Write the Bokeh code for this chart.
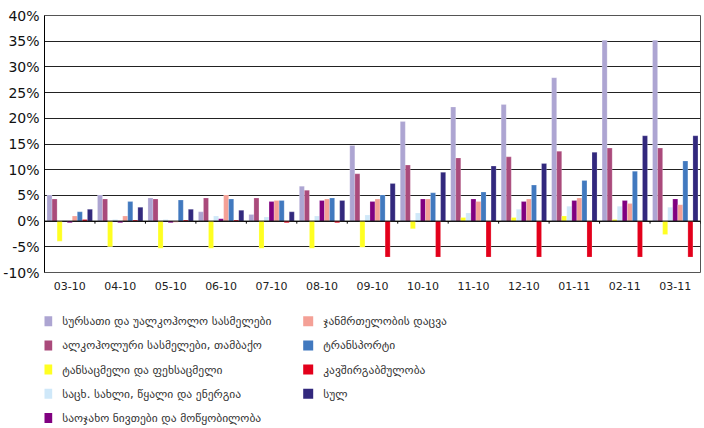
from bokeh.plotting import figure
from bokeh.layouts import column
from bokeh.models import (ColumnDataSource, FixedTicker, PrintfTickFormatter,
                          Span, Range1d)
from bokeh.core.properties import value
from bokeh.embed import file_html
from bokeh.resources import INLINE

# Monthly annual inflation by consumer group (%)
months = ["03-10", "04-10", "05-10", "06-10", "07-10", "08-10", "09-10",
          "10-10", "11-10", "12-10", "01-11", "02-11", "03-11"]

food = [5.1, 5.1, 4.5, 1.8, 1.3, 6.8, 14.7, 19.4, 22.2, 22.7, 27.9, 35.2, 35.2]
alcohol = [4.3, 4.3, 4.3, 4.5, 4.5, 6.0, 9.2, 10.9, 12.3, 12.5, 13.6, 14.2, 14.2]
clothing = [-3.9, -5.0, -5.3, -5.3, -5.3, -5.3, -5.1, -1.5, 0.7, 0.7, 1.0, 0.3, -2.6]
housing = [0.1, 0.3, 0.3, 1.0, 0.8, 1.0, 1.2, 1.6, 1.6, 2.3, 2.9, 2.9, 2.7]
household = [-0.3, -0.3, -0.3, 0.45, 3.8, 4.0, 3.8, 4.3, 4.3, 3.8, 4.0, 4.0, 4.3]
health = [1.0, 1.0, -0.2, 5.1, 4.0, 4.3, 4.3, 4.3, 3.8, 4.3, 4.5, 3.4, 3.2]
transport = [1.8, 3.8, 4.1, 4.3, 4.0, 4.5, 5.1, 5.5, 5.65, 7.0, 7.9, 9.7, 11.7]
communication = [0.3, 0.2, 0.2, 0.2, -0.3, -0.3, -7.0, -7.0, -7.0, -7.0, -7.0, -7.0, -7.0]
total = [2.3, 2.7, 2.3, 2.1, 1.8, 4.0, 7.3, 9.5, 10.7, 11.2, 13.4, 16.6, 16.6]

series_labels = [
    "სურსათი და უალკოჰოლო სასმელები",
    "ალკოჰოლური სასმელები, თამბაქო",
    "ტანსაცმელი და ფეხსაცმელი",
    "საცხ. სახლი, წყალი და ენერგია",
    "საოჯახო ნივთები და მოწყობილობა",
    "ჯანმრთელობის დაცვა",
    "ტრანსპორტი",
    "კავშირგაბმულობა",
    "სულ",
]
series_values = [food, alcohol, clothing, housing, household, health,
                 transport, communication, total]
series_colors = ["#ADA5D2", "#AA4A7B", "#FFFF22", "#CFE8F9", "#800080",
                 "#F4A096", "#4179BF", "#E3001B", "#32287D"]

y_ticks = list(range(-10, 45, 5))

FONT = "DejaVu Sans"
n = len(months)
k = len(series_values)
bar_w = 0.1
LEFT, RIGHT = 44, 4

# ---- bar chart -------------------------------------------------------------
p = figure(width=704, height=300, output_backend="svg", toolbar_location=None,
           x_range=Range1d(0, n), y_range=Range1d(-10, 40),
           min_border_left=LEFT, min_border_right=RIGHT, min_border_top=15,
           min_border_bottom=28)
p.background_fill_color = "white"
p.border_fill_color = "white"
p.outline_line_color = "#555555"

p.yaxis.ticker = FixedTicker(ticks=y_ticks)
p.yaxis.formatter = PrintfTickFormatter(format="%d%%")
p.yaxis.major_label_text_font = FONT
p.yaxis.major_label_text_font_size = "14px"
p.yaxis.major_label_text_color = "#111111"
p.yaxis.major_tick_line_color = None
p.yaxis.minor_tick_line_color = None
p.yaxis.major_tick_out = 0
p.yaxis.axis_line_color = "black"
p.yaxis.major_label_standoff = 5
p.ygrid.grid_line_color = "#222222"
p.ygrid.grid_line_width = 1
p.xgrid.grid_line_color = None

centers = [i + 0.5 for i in range(n)]
p.xaxis.ticker = FixedTicker(ticks=centers)
p.xaxis.major_label_overrides = {c: m for c, m in zip(centers, months)}
p.xaxis.major_label_text_font = FONT
p.xaxis.major_label_text_font_size = "11px"
p.xaxis.major_label_text_color = "#222222"
p.xaxis.axis_line_color = None
p.xaxis.major_tick_line_color = None
p.xaxis.minor_tick_line_color = None
p.xaxis.major_tick_out = 0
p.xaxis.major_label_standoff = 9

# zero line with short separators between month groups
p.add_layout(Span(location=0, dimension="width", line_color="black", line_width=1))
p.segment(x0=list(range(n + 1)), x1=list(range(n + 1)),
          y0=[0] * (n + 1), y1=[-0.5] * (n + 1), line_color="black", line_width=1)

for j, (vals, col) in enumerate(zip(series_values, series_colors)):
    xs = [i + 0.5 + (j - (k - 1) / 2) * bar_w for i in range(n)]
    src = ColumnDataSource(dict(x=xs, top=vals))
    p.vbar(x="x", top="top", bottom=0, width=bar_w, source=src,
           fill_color=col, line_color="white", line_alpha=0.35, line_width=0.6)

# ---- legend panel (two columns, five rows) ---------------------------------
# the column layout lines this frame up with the chart frame, so the x range
# is given in page pixels across that frame
LW, LH = 704, 128
lg = figure(width=LW, height=LH, output_backend="svg", toolbar_location=None,
            x_range=Range1d(LEFT, LW - RIGHT), y_range=Range1d(LH, 0),
            x_axis_type=None, y_axis_type=None,
            min_border_left=LEFT, min_border_right=RIGHT,
            min_border_top=0, min_border_bottom=0, outline_line_color=None)
lg.grid.visible = False
lg.background_fill_color = "white"
lg.border_fill_color = "white"

rows_per_col = 5
col_step, row_step = 261, 24.2
x0, y0 = 46.7, 20.7
sq_x = [x0 + (i // rows_per_col) * col_step for i in range(k)]
sq_y = [y0 + (i % rows_per_col) * row_step for i in range(k)]
leg = ColumnDataSource(dict(x=sq_x, y=sq_y, tx=[x + 15 for x in sq_x],
                            color=series_colors, label=series_labels))
lg.rect(x="x", y="y", width=10, height=10, fill_color="color",
        line_color=None, source=leg)
lg.text(x="tx", y="y", text="label", source=leg, text_font=value(FONT),
        text_font_size="11.5px", text_color="#333333", text_baseline="middle",
        text_align="left")

open("out.html", "w").write(file_html(column(p, lg, spacing=0), INLINE))
